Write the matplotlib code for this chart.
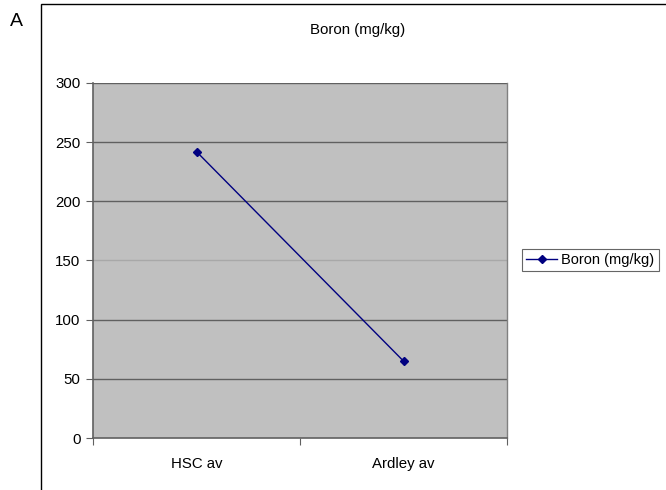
import matplotlib.pyplot as plt
from matplotlib.patches import Rectangle

categories = ["HSC av", "Ardley av"]
boron = [242, 65]
y_ticks = [0, 50, 100, 150, 200, 250, 300]

plt.rcParams['font.family'] = ['Liberation Sans', 'DejaVu Sans']

fig = plt.figure(figsize=(6.66, 4.9), dpi=100)
W, H = 666, 490

# outer chart frame
fig.patches.append(Rectangle((41 / W, -0.1), 1.0, (490 - 4) / H + 0.1,
                             transform=fig.transFigure, fill=False,
                             edgecolor='black', linewidth=1.0))
fig.text(10 / W, 1 - 21 / H, "A", fontsize=14, va='center', ha='left')

ax = fig.add_axes([93 / W, 1 - 438 / H, (507 - 93) / W, (438 - 83) / H])
ax.set_facecolor('#c0c0c0')

x = list(range(len(categories)))
line, = ax.plot(x, boron, color='#000080', marker='D', markersize=4.5,
                linewidth=1.0, label="Boron (mg/kg)", zorder=3)

ax.set_xlim(-0.5, len(categories) - 0.5)
ax.set_ylim(0, 300)
ax.set_yticks(y_ticks)
for v in y_ticks[1:]:
    c = '#a8a8a8' if v == 150 else '#606060'
    ax.axhline(v, color=c, linewidth=1.0, zorder=1)

ax.set_xticks([-0.5, 0.5, 1.5])
ax.set_xticklabels([])
ax.set_xticks(x, minor=True)
ax.set_xticklabels(categories, minor=True)
ax.tick_params(axis='x', which='minor', length=0, pad=14, labelsize=10.8)
ax.tick_params(axis='x', which='major', length=5, color='#606060')
ax.tick_params(axis='y', length=5, color='#606060', labelsize=10.8, pad=4)

ax.spines['top'].set_visible(False)
ax.spines['right'].set_color('#808080')
ax.spines['right'].set_linewidth(1.0)
for s in ['left', 'bottom']:
    ax.spines[s].set_color('#606060')
    ax.spines[s].set_linewidth(1.2)

fig.text(358 / W, 1 - 30 / H, "Boron (mg/kg)", fontsize=10.8,
         ha='center', va='center')

leg = fig.legend(handles=[line], loc='center left',
                 bbox_to_anchor=(519 / W, 1 - 260 / H), fontsize=10.5,
                 frameon=True, fancybox=False, handlelength=2.1,
                 borderpad=0.3, handletextpad=0.3, borderaxespad=0.2)
leg.get_frame().set_edgecolor('#404040')
leg.get_frame().set_linewidth(0.8)

fig.savefig("out.png", dpi=100)
